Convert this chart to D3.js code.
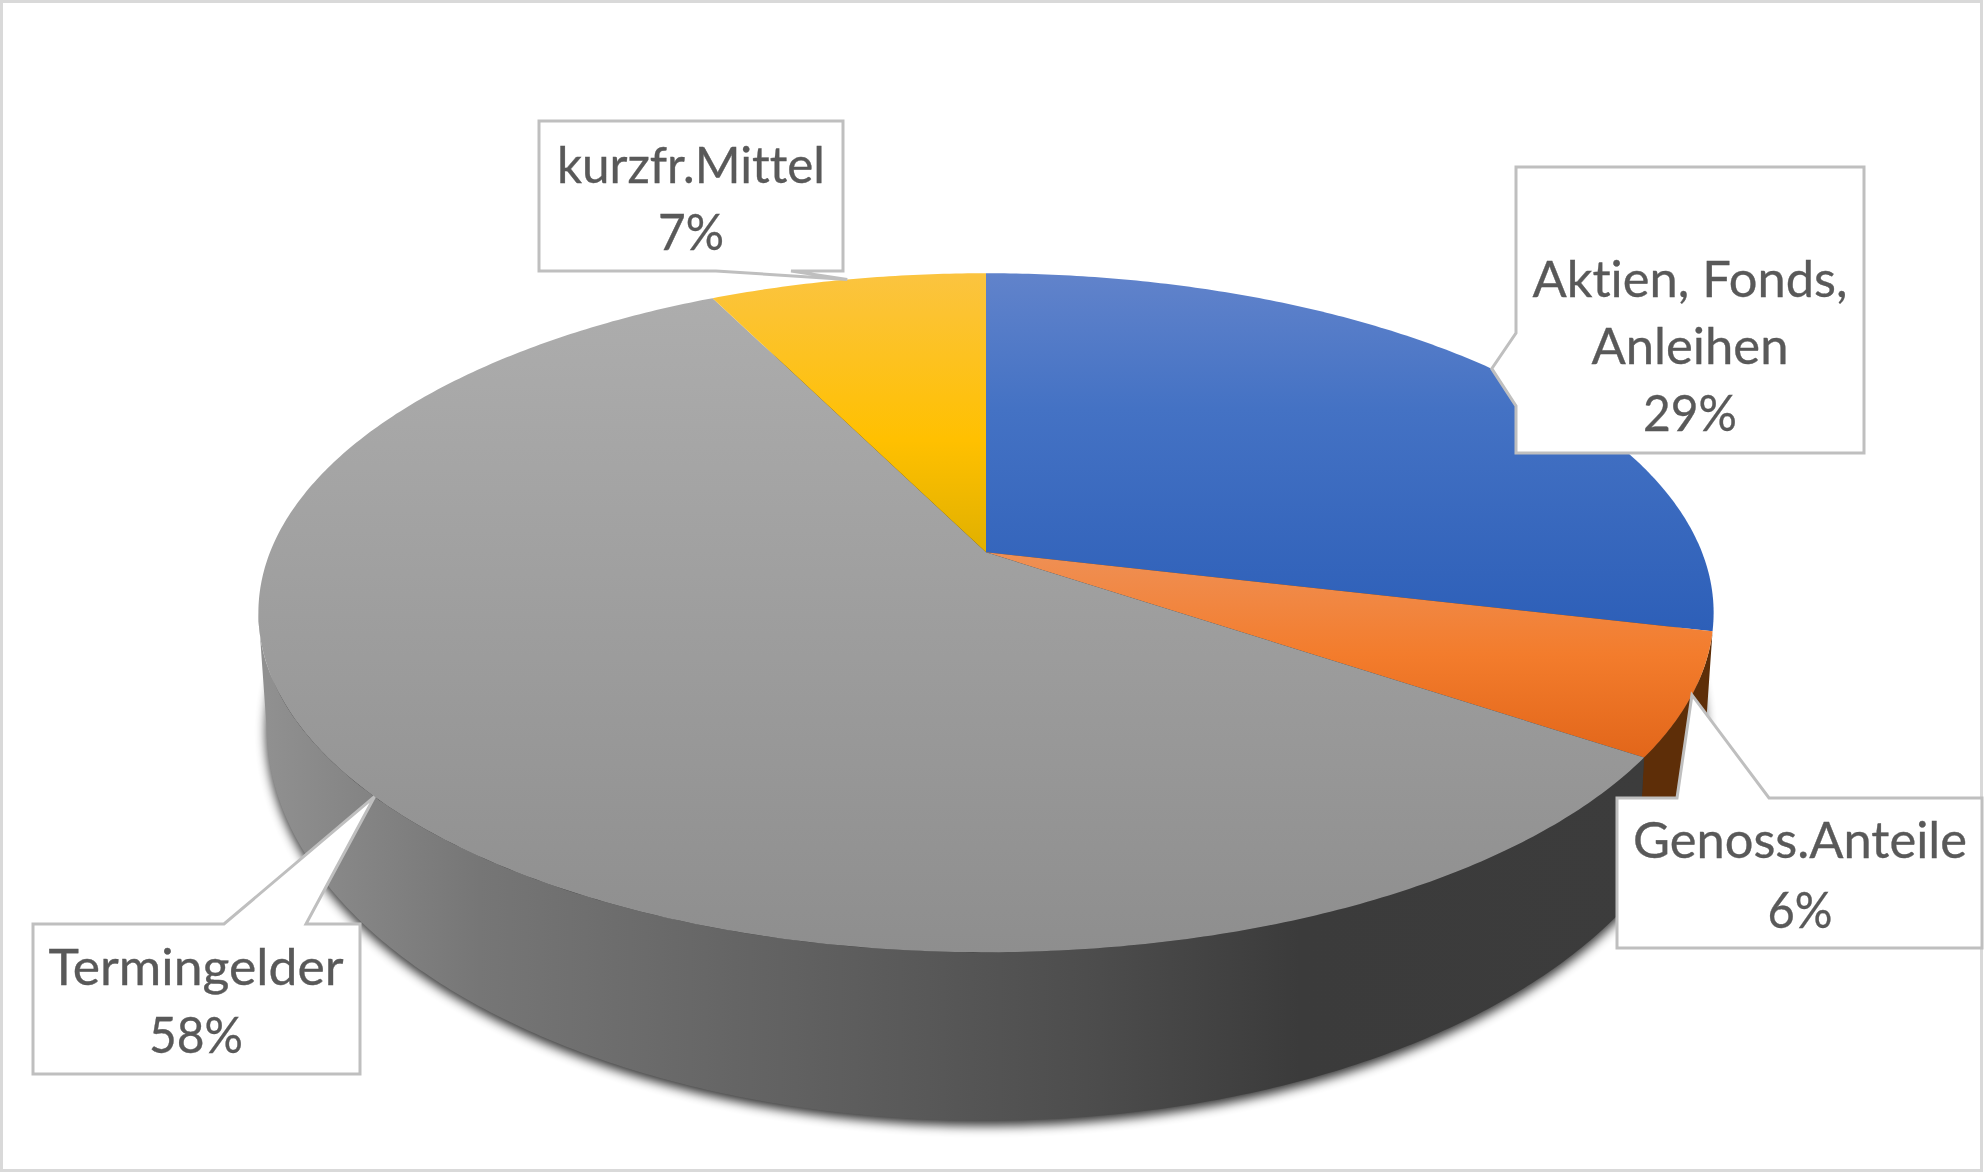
<!DOCTYPE html>
<html lang="de">
<head>
<meta charset="utf-8">
<title>Anlagestruktur</title>
<script src="https://d3js.org/d3.v7.min.js"></script>
<style>
html,body{margin:0;padding:0;background:#fff;overflow:hidden}
svg{display:block}
text{font-family:Lato,"Open Sans",sans-serif;fill:#595959;stroke:#595959;stroke-width:.35;text-anchor:middle;font-variant-ligatures:none}
</style>
</head>
<body>
<svg id="chart" width="1984" height="1173"></svg>
<script>
const categories = ["Aktien, Fonds, Anleihen", "Genoss.Anteile", "Termingelder", "kurzfr.Mittel"];
const shares = [28.7, 5.8, 58.2, 7.3];

// Callout layout (annotation boxes and their text), in page pixels
const boxes = [
  {x0:1516,x1:1864,y0:167,y1:453,side:"left",a:333,b:406,
   lines:[["Aktien, Fonds,",315,297],["Anleihen",197,364]],pctY:431,pctW:94,cx:1690},
  {x0:1617,x1:1982,y0:798,y1:948,side:"top",a:1677,b:1769,
   lines:[["Genoss.Anteile",334,858]],pctY:928,pctW:65,cx:1800},
  {x0:33,x1:360,y0:924,y1:1074,side:"top",a:224,b:306,
   lines:[["Termingelder",295,985]],pctY:1053,pctW:94,cx:196},
  {x0:539,x1:843,y0:121,y1:271,side:"bottom",a:791,b:716,
   lines:[["kurzfr.Mittel",268,183]],pctY:250,pctW:66,cx:691}
];
const topFills = [
  [[0,"#6183cb"],[.38,"#4472c4"],[1,"#2d5fb8"]],
  [[0,"#ef9055"],[.5,"#f37c2c"],[1,"#e2661a"]],
  [[0,"#adadad"],[1,"#8e8e8e"]],
  [[0,"#fbc440"],[.6,"#ffc000"],[1,"#e0b000"]]
];
const wallFills = ["#233f73", "#5e2e08", "url(#wallGrey)", "#7f6000"];
const wallGreyStops = [[267,"#909090"],[480,"#767676"],[900,"#5a5a5a"],[1100,"#4c4c4c"],[1300,"#3b3b3b"],[1650,"#3c3c3c"]];

// Perspective view of the disc
const cx = 986, persp = 0.178;
const topDisc = {ax:716, ay:328.7, y0:552.3};
const baseDisc = {ax:708, ay:382, y0:656};
const project = (disc, theta) => {
  const u = Math.sin(theta), v = -Math.cos(theta), w = 1 - persp * v;
  return [cx + disc.ax * u / w, disc.y0 + disc.ay * v / w];
};
const samples = (a, b) => {
  const n = Math.max(2, Math.ceil((b - a) / 0.01));
  return d3.range(n + 1).map(i => a + (b - a) * i / n);
};

const svg = d3.select("#chart");
const defs = svg.append("defs");
const line = d3.line();
const arcs = d3.pie().value(d => d).sort(null)(shares);
const pct = d3.format(".0%");
const total = d3.sum(shares);

// gradients
topFills.forEach((stops, i) => {
  const g = defs.append("linearGradient").attr("id", "top" + i)
    .attr("x1", 0).attr("y1", 0).attr("x2", 0).attr("y2", 1);
  stops.forEach(s => g.append("stop").attr("offset", s[0]).attr("stop-color", s[1]));
});
const gx = d3.scaleLinear().domain([wallGreyStops[0][0], wallGreyStops[wallGreyStops.length-1][0]]).range([0, 1]);
const wg = defs.append("linearGradient").attr("id", "wallGrey")
  .attr("gradientUnits", "userSpaceOnUse")
  .attr("x1", gx.domain()[0]).attr("y1", 0).attr("x2", gx.domain()[1]).attr("y2", 0);
wallGreyStops.forEach(s => wg.append("stop").attr("offset", gx(s[0])).attr("stop-color", s[1]));
const f = defs.append("filter").attr("id", "blur")
  .attr("x", "-5%").attr("y", "-5%").attr("width", "110%").attr("height", "110%");
f.append("feGaussianBlur").attr("stdDeviation", 5.5);

// frame
svg.append("rect").attr("x", 1.5).attr("y", 1.5).attr("width", 1980).attr("height", 1169)
  .attr("fill", "#fff").attr("stroke", "#d9d9d9").attr("stroke-width", 3);

// soft shadow under the base of the disc
svg.append("path")
  .attr("fill", "#000").attr("opacity", 0.8).attr("filter", "url(#blur)")
  .attr("transform", "translate(0,5)")
  .attr("d", line(samples(0, 2 * Math.PI).map(a => project(baseDisc, a))) + "Z");

// side walls: only the part of the rim that faces the viewer, up to the silhouette
const silhouette = Math.acos(-persp);          // rim angle where the disc is widest
const frontStart = arcs[0].endAngle;
const frontEnd = 2 * Math.PI - silhouette;
svg.append("g").selectAll("path")
  .data(arcs.filter(d => d.endAngle > frontStart && d.startAngle < frontEnd)).join("path")
  .attr("fill", d => wallFills[d.index])
  .attr("d", d => {
    const t = samples(Math.max(d.startAngle, frontStart), Math.min(d.endAngle, frontEnd));
    return line(t.map(a => project(topDisc, a)).concat(t.slice().reverse().map(a => project(baseDisc, a)))) + "Z";
  });

// top surface
svg.append("g").selectAll("path").data(arcs).join("path")
  .attr("fill", (d, i) => `url(#top${i})`)
  .attr("d", d => line([[cx, topDisc.y0]].concat(samples(d.startAngle, d.endAngle).map(a => project(topDisc, a)))) + "Z");

// callouts
const calloutPath = (b, tip) => {
  const p = [[b.x0, b.y0]];
  if (b.side === "top") p.push([b.a, b.y0], tip, [b.b, b.y0]);
  p.push([b.x1, b.y0], [b.x1, b.y1]);
  if (b.side === "bottom") p.push([b.a, b.y1], tip, [b.b, b.y1]);
  p.push([b.x0, b.y1]);
  if (b.side === "left") p.push([b.x0, b.b], tip, [b.x0, b.a]);
  return line(p) + "Z";
};
const callouts = svg.append("g").selectAll("g").data(arcs).join("g");
callouts.append("path")
  .attr("fill", "#fff").attr("stroke", "#bfbfbf").attr("stroke-width", 3).attr("stroke-linejoin", "miter")
  .attr("d", (d, i) => calloutPath(boxes[i], project(topDisc, (d.startAngle + d.endAngle) / 2)));
callouts.each(function(d, i) {
  const b = boxes[i], g = d3.select(this);
  const row = (txt, w, y) => g.append("text")
    .attr("x", b.cx).attr("y", y).attr("font-size", 51)
    .attr("textLength", w).attr("lengthAdjust", "spacingAndGlyphs").text(txt);
  b.lines.forEach(l => row(l[0], l[1], l[2]));
  row(pct(d.value / total), b.pctW, b.pctY);
});
</script>
</body>
</html>
